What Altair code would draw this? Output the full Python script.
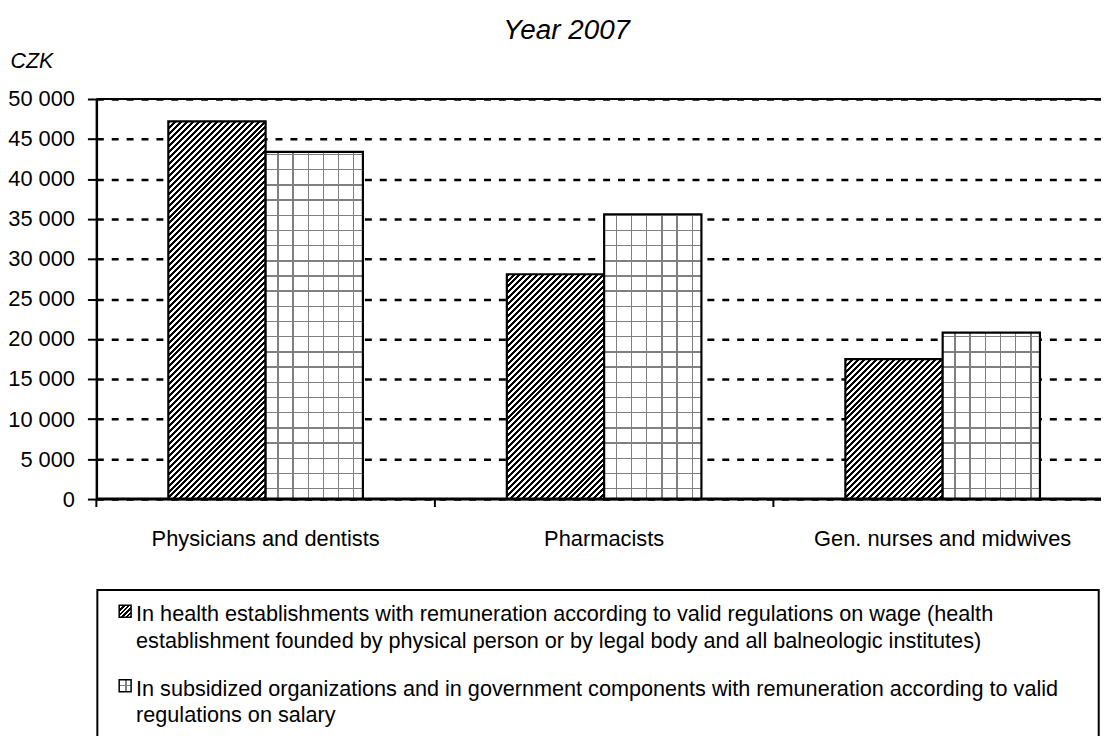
import altair as alt
import pandas as pd

# ---------------- data ----------------
categories = ["Physicians and dentists", "Pharmacists", "Gen. nurses and midwives"]
series_keys = ["wage", "salary"]
wage_values = [47200, 28100, 17500]
salary_values = [43400, 35600, 20800]
y_tick_values = [0, 5000, 10000, 15000, 20000, 25000, 30000, 35000, 40000, 45000, 50000]
title_text = "Year 2007"
unit_text = "CZK"
legend_texts = [
    "In health establishments with remuneration according to valid regulations on wage (health\n"
    "establishment founded by physical person or by legal body and all balneologic institutes)",
    "In subsidized organizations and in government components with remuneration according to valid\n"
    "regulations on salary",
]

rows = []
for c, w, s in zip(categories, wage_values, salary_values):
    rows.append({"category": c, "series": "wage", "value": w})
    rows.append({"category": c, "series": "salary", "value": s})
bars_df = pd.DataFrame(rows)
cats_df = pd.DataFrame({"category": categories})
legend_df = pd.DataFrame({"series": series_keys, "label": legend_texts})
title_df = pd.DataFrame({"t": [title_text]})

# ---------------- layout / style ----------------
FONT = "Liberation Sans"
FS = 22
LFS = 21.8
PLOT_W, PLOT_H = 1012, 403
PAD = {"left": 89, "top": 89, "right": 0, "bottom": 236}
Y_MAX = 50000
BAND_RANGE = 1023.0
STEP = BAND_RANGE / 3
PAIR = 196.0
P_IN = 1 - PAIR / STEP
BAR_W = PAIR / 2

BLACK = "#000000"
WHITE = "#ffffff"
CLEAR = "rgba(255,255,255,0)"
GRIDC = "#808080"


def grad(stops, x1, y1, x2, y2):
    return alt.LinearGradient(
        gradient="linear", x1=x1, y1=y1, x2=x2, y2=y2,
        stops=[alt.GradientStop(offset=round(min(max(o, 0), 1), 5), color=col) for o, col in stops],
    )


def stripe_gradient(w, h, period=6.0, dark=0.5):
    L = w + h
    stops = []
    pos = 0.0
    while pos < L:
        a = pos / L
        b = min(pos + period * dark, L) / L
        c = min(pos + period, L) / L
        stops += [(a, BLACK), (b, BLACK), (b, WHITE), (c, WHITE)]
        pos += period
    d = w * w + h * h
    return grad(stops, 0, 0, w * L / d, h * L / d)


def lines_gradient(length, positions, bg, horizontal_lines, thick=1.4):
    stops = [(0, bg)]
    for p in sorted(positions):
        a = max(p - thick / 2, 0) / length
        b = min(p + thick / 2, length) / length
        stops += [(a, bg), (a, GRIDC), (b, GRIDC), (b, bg)]
    stops.append((1, bg))
    if horizontal_lines:
        return grad(stops, 0, 0, 0, 1)
    return grad(stops, 0, 0, 1, 0)


def hgrid(h, spacing=15.3, first=10.5):
    pos = []
    d = first
    while d < h:
        pos.append(h - d)
        d += spacing
    return lines_gradient(h, pos, WHITE, True)


def vgrid(w, spacing=15.3, first=12.3):
    pos = []
    d = first
    while d < w:
        pos.append(d)
        d += spacing
    return lines_gradient(w, pos, CLEAR, False)


x_scale = alt.Scale(range=[0, BAND_RANGE], paddingInner=P_IN, paddingOuter=P_IN / 2)
y_scale = alt.Scale(domain=[0, Y_MAX], nice=False)

y_axis = alt.Axis(
    values=y_tick_values,
    labelExpr="replace(format(datum.value, ','), ',', ' ')",
    domainColor=BLACK, domainWidth=2.5, tickColor=BLACK, tickWidth=2, tickSize=9,
    labelPadding=13, labelFont=FONT, labelFontSize=FS, labelColor=BLACK,
    grid=True, gridColor=BLACK, gridDash=[7, 8], gridWidth=2.5,
    title=unit_text, titleAngle=0, titleX=-87, titleY=-32, titleAlign="left",
    titleBaseline="alphabetic", titleFont=FONT, titleFontStyle="italic",
    titleFontWeight="normal", titleFontSize=21.5, titleColor=BLACK,
)

x_enc = alt.X("category:N", sort=categories, scale=x_scale, axis=None)
xo_enc = alt.XOffset("series:N", sort=series_keys, scale=alt.Scale(paddingInner=0, paddingOuter=0))
y_enc = alt.Y("value:Q", scale=y_scale, axis=y_axis)

layers = []

# solid frame line at the top of the plot
layers.append(
    alt.Chart(title_df).mark_rule(color=BLACK, strokeWidth=2).encode(
        x=alt.value(0), x2=alt.value(PLOT_W), y=alt.value(0)
    )
)

for c, wv, sv in zip(categories, wage_values, salary_values):
    for s, v in (("wage", wv), ("salary", sv)):
        h = v / Y_MAX * PLOT_H
        base = alt.Chart(bars_df).transform_filter(
            f"datum.category === '{c}' && datum.series === '{s}'"
        ).encode(x=x_enc, xOffset=xo_enc, y=y_enc)
        if s == "wage":
            layers.append(base.mark_bar(fill=stripe_gradient(BAR_W, h), stroke=BLACK, strokeWidth=2.2))
        else:
            layers.append(base.mark_bar(fill=hgrid(h), strokeWidth=0))
            layers.append(base.mark_bar(fill=vgrid(BAR_W), stroke=BLACK, strokeWidth=2.2))

# x axis line
layers.append(
    alt.Chart(title_df).mark_rule(color=BLACK, strokeWidth=3).encode(
        x=alt.value(0), x2=alt.value(PLOT_W), y=alt.value(PLOT_H)
    )
)
# category boundary ticks on the x axis
layers.append(
    alt.Chart(cats_df).mark_rule(color=BLACK, strokeWidth=2, xOffset=-STEP * P_IN / 2).encode(
        x=alt.X("category:N", sort=categories, scale=x_scale, axis=None, bandPosition=0),
        y=alt.value(PLOT_H), y2=alt.value(PLOT_H + 8),
    )
)
# category labels
layers.append(
    alt.Chart(cats_df).mark_text(
        font=FONT, fontSize=FS, align="center", baseline="alphabetic", color=BLACK
    ).encode(
        x=alt.X("category:N", sort=categories, scale=x_scale, axis=None),
        y=alt.value(PLOT_H + 47), text="category:N",
    )
)

# title
layers.append(
    alt.Chart(title_df).mark_text(
        font=FONT, fontSize=28, fontStyle="italic", align="left", baseline="alphabetic", color=BLACK
    ).encode(text="t:N", x=alt.value(410), y=alt.value(-60))
)

# legend box
layers.append(
    alt.Chart(title_df).mark_rect(fill=WHITE, stroke=BLACK, strokeWidth=2).encode(
        x=alt.value(1), x2=alt.value(1009.7), y=alt.value(494.5), y2=alt.value(700)
    )
)

# legend swatches
sw = 12
layers.append(
    alt.Chart(title_df).mark_rect(fill=stripe_gradient(sw, sw, period=4.5), stroke=BLACK, strokeWidth=1.5).encode(
        x=alt.value(23), x2=alt.value(23 + sw), y=alt.value(510), y2=alt.value(510 + sw)
    )
)
layers.append(
    alt.Chart(title_df).mark_rect(fill=lines_gradient(sw, [6], WHITE, True), strokeWidth=0).encode(
        x=alt.value(23), x2=alt.value(23 + sw), y=alt.value(585), y2=alt.value(585 + sw)
    )
)
layers.append(
    alt.Chart(title_df).mark_rect(fill=lines_gradient(sw, [7], CLEAR, False), stroke=BLACK, strokeWidth=1.5).encode(
        x=alt.value(23), x2=alt.value(23 + sw), y=alt.value(585), y2=alt.value(585 + sw)
    )
)

# legend texts
for s, ypos in zip(series_keys, [526, 601]):
    layers.append(
        alt.Chart(legend_df).transform_filter(f"datum.series === '{s}'").mark_text(
            font=FONT, fontSize=LFS, align="left", baseline="alphabetic", lineBreak="\n",
            lineHeight=27, color=BLACK
        ).encode(text="label:N", x=alt.value(40), y=alt.value(ypos))
    )

chart = alt.layer(*layers).properties(
    width=PLOT_W, height=PLOT_H,
    autosize=alt.AutoSizeParams(type="none"),
    padding=PAD,
).configure_view(stroke="transparent").configure(font=FONT)

chart.save("out.html", embed_options={"renderer": "svg", "actions": False})
